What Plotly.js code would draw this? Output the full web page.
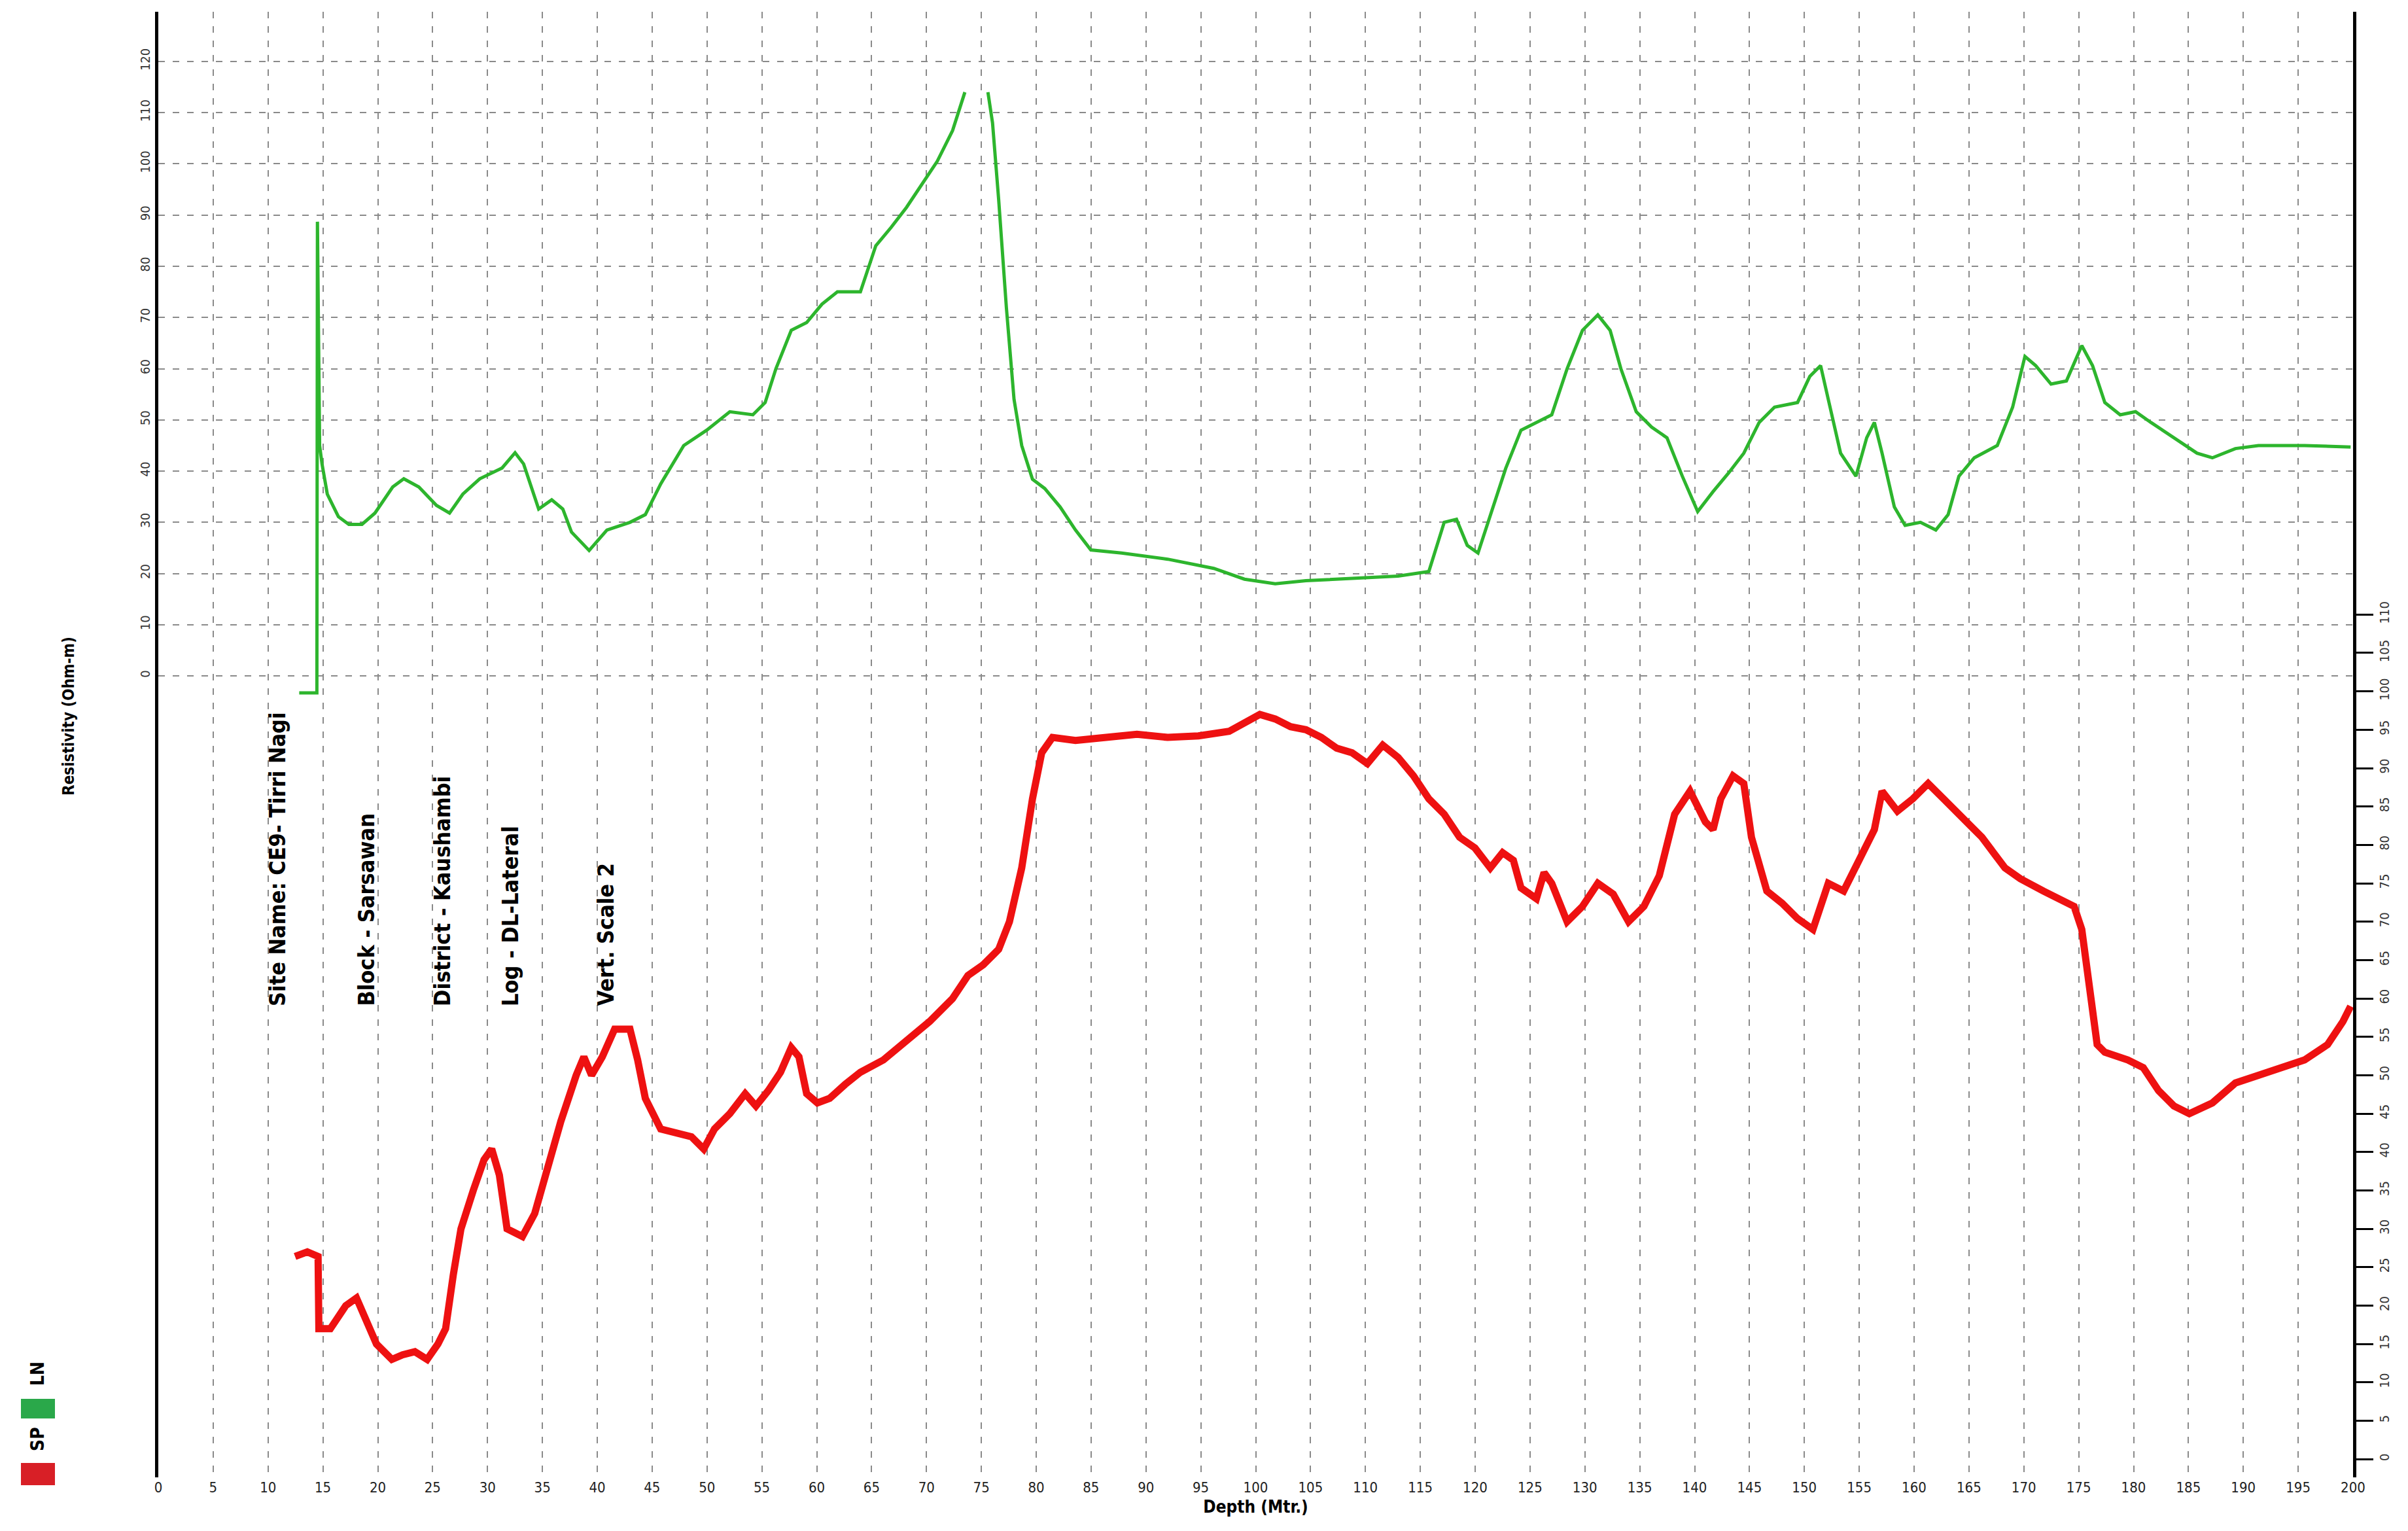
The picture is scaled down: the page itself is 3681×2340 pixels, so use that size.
<!DOCTYPE html>
<html><head><meta charset="utf-8">
<script src="https://cdn.plot.ly/plotly-3.0.1.min.js"></script>
<style>html,body{margin:0;padding:0;background:#fff}#chart{width:3681px;height:2340px}</style>
</head><body><div id="chart"></div>
<script>
// ---- Data (depth in metres) ----
const depthLN = [12.84,14.45,14.50,14.70,14.92,15.40,16.41,17.36,18.56,19.74,21.36,22.37,23.74,25.35,26.54,27.75,29.29,31.32,32.51,33.29,34.66,35.85,36.86,37.65,39.26,
 40.88,42.98,44.38,45.78,47.88,49.98,52.08,54.18,55.30,56.28,57.68,59.08,60.48,61.88,63.98,65.38,66.78,68.18,69.58,70.98,72.38,73.50,74.50,
 75.60,76.02,76.58,77.28,77.98,78.68,79.66,80.78,82.18,83.58,84.98,87.78,91.98,96.18,98.98,101.78,104.58,107.38,110.18,112.98,115.78,
 117.18,118.30,119.28,120.26,121.38,122.78,124.18,125.58,126.98,128.38,129.78,131.18,132.30,133.28,134.68,136.08,137.48,138.88,140.28,
 141.68,143.08,144.48,145.88,147.28,149.38,150.50,151.48,152.18,153.30,154.70,155.68,156.38,157.08,158.20,159.18,160.58,161.98,163.10,
 164.08,165.48,167.58,168.98,170.10,171.08,172.48,173.88,175.28,176.26,177.38,178.78,180.18,181.58,183.68,185.78,187.18,189.28,191.38,195.58,199.78];
const resLN = [-3.3,-3.3,88.7,45.0,41.4,35.5,31.1,29.6,29.6,31.8,36.9,38.5,36.9,33.3,31.8,35.5,38.5,40.6,43.6,41.4,32.6,34.4,32.6,28.1,24.5,
 28.5,30.0,31.5,37.5,45.0,48.0,51.6,51.0,53.4,60.0,67.5,69.0,72.6,75.0,75.0,84.0,87.6,91.5,96.0,100.5,106.5,114.0,null,
 114.0,108.0,93.0,72.0,54.0,45.0,38.4,36.6,33.0,28.5,24.6,24.0,22.8,21.0,18.9,18.0,18.6,18.9,19.2,19.5,20.4,
 30.0,30.6,25.5,24.0,31.5,40.5,48.0,49.5,51.0,60.0,67.5,70.5,67.5,60.0,51.6,48.6,46.5,39.0,32.1,
 36.0,39.6,43.5,49.5,52.5,53.4,58.5,60.6,54.0,43.5,39.0,46.5,49.5,43.5,33.0,29.4,30.0,28.5,31.5,
 39.0,42.6,45.0,52.5,62.4,60.6,57.0,57.6,64.5,60.6,53.4,51.0,51.6,49.5,46.5,43.5,42.6,44.4,45.0,45.0,44.7];

const depthSP = [12.46,13.58,14.56,14.63,15.68,17.08,18.06,18.90,19.88,21.28,22.26,23.38,24.50,25.48,26.18,26.88,27.58,28.70,29.68,30.38,31.08,31.78,
 33.18,34.30,35.28,36.68,38.08,38.78,39.48,40.46,41.58,42.98,43.68,44.38,45.78,47.18,48.58,49.70,50.68,52.08,53.48,54.46,55.58,56.70,57.68,
 58.38,59.08,60.06,61.18,62.58,63.98,66.08,68.18,70.28,72.38,73.78,75.18,76.58,77.56,78.68,79.66,80.50,81.48,83.58,86.38,89.18,91.98,94.78,
 97.58,98.98,100.38,101.78,103.18,104.58,105.98,107.38,108.78,110.18,111.58,112.98,114.38,115.78,117.18,118.58,119.98,121.38,122.50,123.48,
 124.18,125.58,126.28,126.98,128.38,129.78,131.18,132.58,133.98,135.38,136.78,138.18,139.58,140.98,141.68,142.38,143.50,144.48,145.18,146.58,
 147.98,149.38,150.78,151.48,152.18,153.58,154.98,156.38,157.08,158.48,159.88,161.28,162.68,164.08,166.18,168.28,169.68,171.78,173.18,174.58,
 175.28,175.98,176.68,177.38,179.48,180.88,182.28,183.68,185.08,187.18,189.28,191.38,193.48,195.58,197.68,199.08,199.78];
const spVals = [26.4,27.0,26.4,17.0,17.0,20.0,21.0,18.0,15.0,13.0,13.6,14.0,13.0,15.0,17.0,24.0,30.0,35.0,39.0,40.4,37.0,30.0,
 29.0,32.0,37.0,44.0,50.0,52.4,50.0,52.4,56.0,56.0,52.0,47.0,43.0,42.4,42.0,40.4,43.0,45.0,47.6,46.0,48.0,50.4,53.6,
 52.4,47.6,46.4,47.0,48.8,50.4,52.0,54.4,57.0,60.0,63.0,64.4,66.4,70.0,77.0,86.0,92.0,94.0,93.6,94.0,94.4,94.0,94.2,
 94.8,96.0,97.0,96.4,95.4,95.0,94.0,92.6,92.0,90.6,93.0,91.4,89.0,86.0,84.0,81.0,79.6,77.0,79.0,78.0,
 74.4,73.0,76.4,75.0,70.0,72.0,75.0,73.6,70.0,72.0,76.0,84.0,87.0,83.0,82.0,86.0,89.0,88.0,81.0,74.0,
 72.4,70.4,69.0,72.0,75.0,74.0,78.0,82.0,87.0,84.4,86.0,88.0,86.0,84.0,81.0,77.0,75.6,74.0,73.0,72.0,
 69.0,62.0,54.0,53.0,52.0,51.0,48.0,46.0,45.0,46.4,49.0,50.0,51.0,52.0,54.0,57.0,59.0];

const depthTicks = [0,5,10,15,20,25,30,35,40,45,50,55,60,65,70,75,80,85,90,95,100,105,110,115,120,125,130,135,140,145,150,155,160,165,170,175,180,185,190,195,200];
const resTicks = [0,10,20,30,40,50,60,70,80,90,100,110,120,130];
const spTicks = [0,5,10,15,20,25,30,35,40,45,50,55,60,65,70,75,80,85,90,95,100,105,110];
const infoLines = ["Site Name: CE9- Tirri Nagi","Block - Sarsawan","District - Kaushambi","Log - DL-Lateral","Vert. Scale 2"];
const seriesNames = ["SP","LN"];
const xTitle = "Depth (Mtr.)";
const yTitle = "Resistivity (Ohm-m)";

// ---- Layout helpers ----
const W=3681, H=2340, ML=242, MR=84, MT=18, MB=82;
const PW=W-ML-MR, PH=H-MT-MB;
const fx = p => (p-ML)/PW;
const fy = p => (H-MB-p)/PH;
const NARROW = '"Liberation Sans Narrow","DejaVu Sans Condensed","Arial Narrow","Liberation Sans",sans-serif';

const traces = [
  {x: depthLN, y: resLN, type:'scatter', mode:'lines', name: seriesNames[1], yaxis:'y',
   line:{color:'#2db52d', width:5}, connectgaps:false},
  {x: depthSP, y: spVals, type:'scatter', mode:'lines', name: seriesNames[0], yaxis:'y2',
   line:{color:'#ee1111', width:11}}
];

const infoX = [424, 560, 676, 780, 926];
const annotations = infoLines.map((t,i)=>({
  text: '<b>'+t+'</b>', xref:'paper', yref:'paper', x: fx(infoX[i]), y: fy(1540), xanchor:'center', yanchor:'bottom',
  textangle:-90, showarrow:false, font:{family:NARROW, size:34, color:'#000'}
}));
annotations.push({text: '<b>'+yTitle+'</b>', xref:'paper', yref:'paper', x: fx(105), y: fy(1095), xanchor:'center', yanchor:'middle',
  textangle:-90, showarrow:false, font:{family:NARROW, size:24, color:'#000'}});
annotations.push({text: '<b>'+seriesNames[0]+'</b>', xref:'paper', yref:'paper', x: fx(57), y: fy(2200), xanchor:'center', yanchor:'middle',
  textangle:-90, showarrow:false, font:{family:NARROW, size:28, color:'#000'}});
annotations.push({text: '<b>'+seriesNames[1]+'</b>', xref:'paper', yref:'paper', x: fx(57), y: fy(2100), xanchor:'center', yanchor:'middle',
  textangle:-90, showarrow:false, font:{family:NARROW, size:28, color:'#000'}});

const shapes = [
  {type:'rect', xref:'paper', yref:'paper', x0:fx(32), x1:fx(84), y0:fy(2270), y1:fy(2236), fillcolor:'#d81f26', line:{width:0}},
  {type:'rect', xref:'paper', yref:'paper', x0:fx(32), x1:fx(84), y0:fy(2168), y1:fy(2138), fillcolor:'#2aa84a', line:{width:0}}
];

const layout = {
  width:W, height:H, paper_bgcolor:'#fff', plot_bgcolor:'#fff', showlegend:false,
  margin:{l:ML, r:MR, t:MT, b:MB, pad:0},
  font:{family:NARROW, color:'#000'},
  xaxis:{range:[0,200], tickmode:'array', tickvals:depthTicks, ticktext:depthTicks.map(String),
    showgrid:true, gridcolor:'#8a8a8a', gridwidth:2, griddash:'10px,12px', zeroline:false, showline:false,
    ticks:'', tickfont:{size:22, family:NARROW, color:'#222'},
    title:{text:'<b>'+xTitle+'</b>', font:{size:26, family:NARROW, color:'#000'}, standoff:8}},
  yaxis:{range:[-156.5,129.7], tickmode:'array', tickvals:resTicks, ticktext:resTicks.map(String), tickangle:-90,
    showgrid:true, gridcolor:'#8a8a8a', gridwidth:2, griddash:'10px,12px', zeroline:false,
    showline:true, linecolor:'#000', linewidth:5, ticks:'', tickfont:{size:20, family:NARROW, color:'#333'}},
  yaxis2:{range:[-2.36,188.5], overlaying:'y', side:'right', tickmode:'array', tickvals:spTicks, ticktext:spTicks.map(String), tickangle:-90,
    showgrid:false, zeroline:false, showline:true, linecolor:'#000', linewidth:5, ticks:'outside', ticklen:26, tickwidth:3, tickcolor:'#000',
    tickfont:{size:20, family:NARROW, color:'#333'}},
  annotations, shapes
};

Plotly.newPlot('chart', traces, layout, {staticPlot:true, displayModeBar:false});
</script>
</body></html>
